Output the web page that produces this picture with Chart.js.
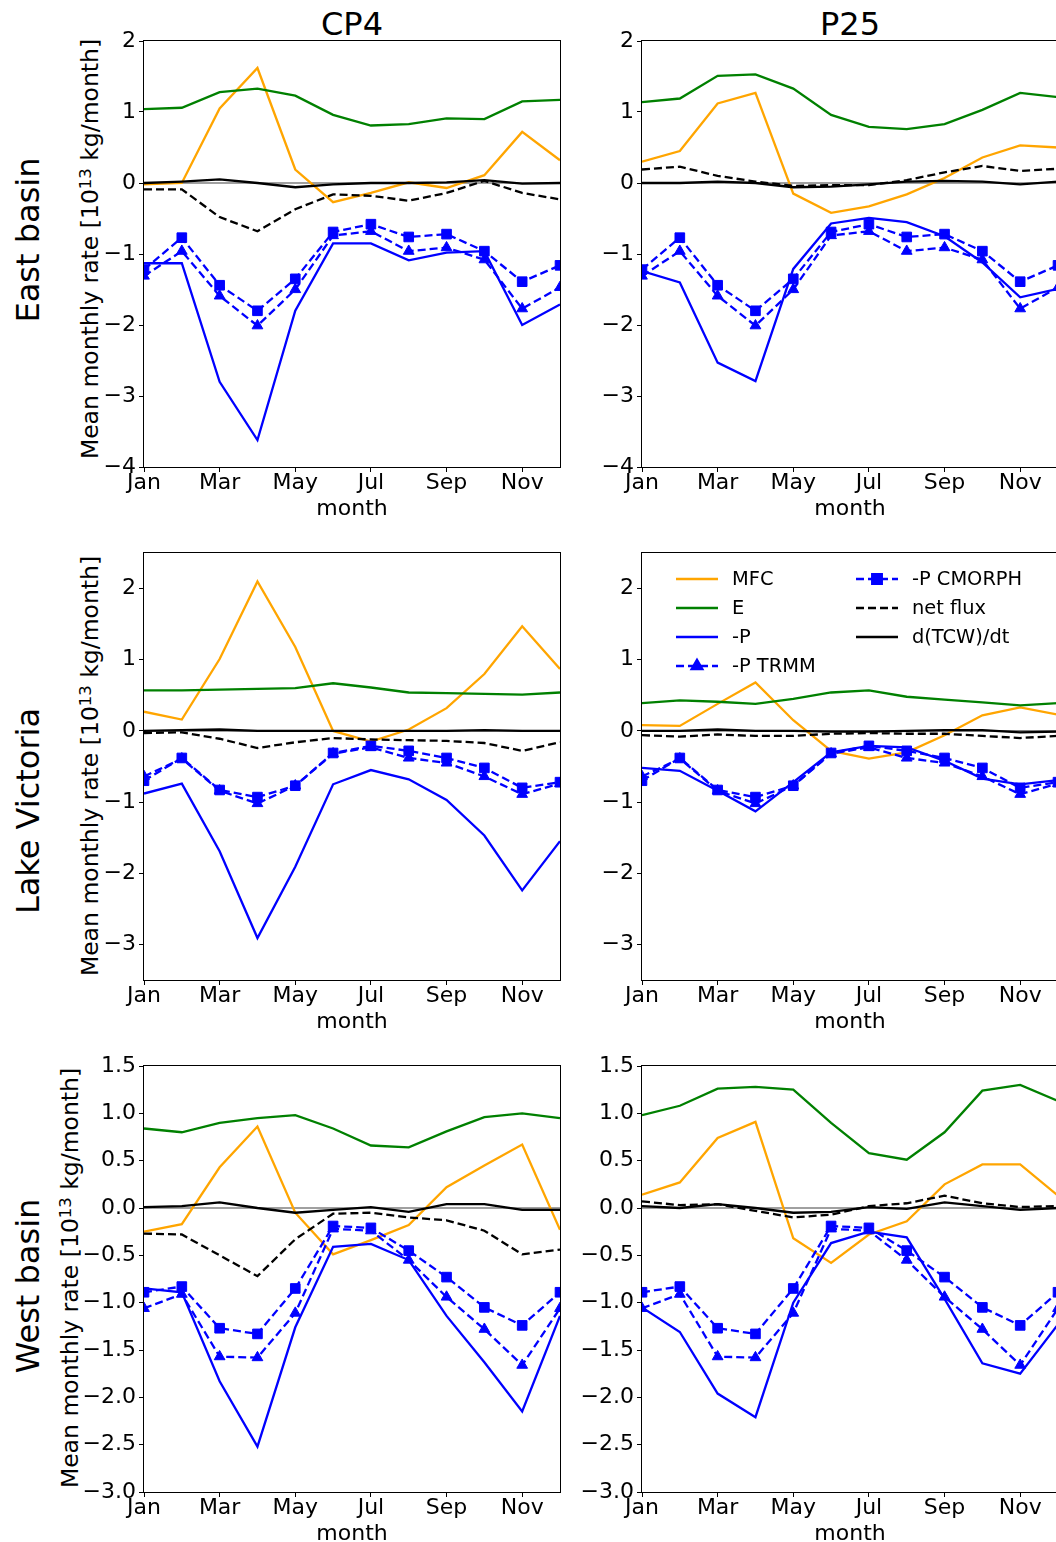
<!DOCTYPE html>
<html>
<head>
<meta charset="utf-8">
<script src="https://cdn.jsdelivr.net/npm/chart.js@4.4.1/dist/chart.umd.min.js"></script>
<style>
body { margin:0; width:1056px; height:1542px; overflow:hidden; background:#fff; position:relative; font-family:"DejaVu Sans", sans-serif; }
canvas { position:absolute; }
.txt { position:absolute; white-space:nowrap; color:#000; line-height:1; }
.rot { transform:translate(-50%,-50%) rotate(-90deg); }
.ttl { width:200px; text-align:center; font-size:32px; }
sup { font-size:70%; vertical-align:0.45em; line-height:0; }
</style>
</head>
<body>
<div class="txt ttl" style="left:252px;top:8px">CP4</div>
<div class="txt ttl" style="left:750px;top:8px">P25</div>
<div class="txt rot" style="left:28px;top:240px;font-size:32px">East basin</div>
<div class="txt rot" style="left:28px;top:811px;font-size:32px">Lake Victoria</div>
<div class="txt rot" style="left:28px;top:1286px;font-size:32px">West basin</div>
<div class="txt rot" style="left:91px;top:249px;font-size:23.5px">Mean monthly rate [10<sup>13</sup> kg/month]</div>
<div class="txt rot" style="left:91px;top:766px;font-size:23.5px">Mean monthly rate [10<sup>13</sup> kg/month]</div>
<div class="txt rot" style="left:71px;top:1278px;font-size:23.5px">Mean monthly rate [10<sup>13</sup> kg/month]</div>
<script>
// months 0..11, ticks every other month
const months = ['Jan', 'Feb', 'Mar', 'Apr', 'May', 'Jun', 'Jul', 'Aug', 'Sep', 'Oct', 'Nov', 'Dec'];
const monthTicks = [0, 2, 4, 6, 8, 10];

const eastTicks = [-4, -3, -2, -1, 0, 1, 2];
const lvTicks = [-3, -2, -1, 0, 1, 2];
const westTicks = [-3, -2.5, -2, -1.5, -1, -0.5, 0, 0.5, 1, 1.5];

// observations (same in both columns)
const eastTrmm = [-1.31, -0.96, -1.59, -2.01, -1.50, -0.74, -0.68, -0.96, -0.91, -1.08, -1.77, -1.47];
const eastCmorph = [-1.22, -0.77, -1.44, -1.80, -1.35, -0.69, -0.58, -0.76, -0.72, -0.96, -1.39, -1.16];
const lvTrmm = [-0.64, -0.39, -0.84, -1.02, -0.77, -0.32, -0.23, -0.38, -0.45, -0.64, -0.89, -0.74];
const lvCmorph = [-0.70, -0.38, -0.83, -0.93, -0.77, -0.31, -0.21, -0.28, -0.38, -0.52, -0.80, -0.72];
const westTrmm = [-1.06, -0.91, -1.57, -1.58, -1.11, -0.22, -0.24, -0.55, -0.94, -1.28, -1.66, -1.06];
const westCmorph = [-0.89, -0.83, -1.27, -1.33, -0.85, -0.19, -0.21, -0.45, -0.73, -1.05, -1.24, -0.89];

// East basin
const eastMfcCP4 = [-0.02, 0.0, 1.05, 1.62, 0.19, -0.27, -0.14, 0.01, -0.07, 0.11, 0.72, 0.32];
const eastE_CP4 = [1.04, 1.06, 1.28, 1.33, 1.23, 0.96, 0.81, 0.83, 0.91, 0.90, 1.15, 1.17];
const eastP_CP4 = [-1.13, -1.13, -2.80, -3.62, -1.80, -0.85, -0.85, -1.09, -0.98, -0.96, -2.00, -1.71];
const eastNet_CP4 = [-0.09, -0.09, -0.48, -0.68, -0.37, -0.16, -0.18, -0.25, -0.14, 0.03, -0.14, -0.23];
const eastTcw_CP4 = [0.0, 0.02, 0.05, 0.0, -0.06, -0.02, 0.0, 0.0, 0.01, 0.04, -0.01, 0.0];

const eastMfcP25 = [0.30, 0.45, 1.12, 1.27, -0.15, -0.42, -0.33, -0.16, 0.07, 0.36, 0.53, 0.50];
const eastE_P25 = [1.14, 1.19, 1.51, 1.53, 1.33, 0.96, 0.79, 0.76, 0.83, 1.03, 1.27, 1.21];
const eastP_P25 = [-1.24, -1.40, -2.53, -2.79, -1.21, -0.57, -0.49, -0.55, -0.75, -1.12, -1.61, -1.49];
const eastNet_P25 = [0.19, 0.23, 0.10, 0.02, -0.04, -0.03, -0.03, 0.04, 0.15, 0.24, 0.17, 0.20];
const eastTcw_P25 = [0.0, 0.0, 0.02, 0.0, -0.06, -0.05, -0.02, 0.02, 0.03, 0.02, -0.02, 0.02];

// Lake Victoria
const lvMfcCP4 = [0.27, 0.16, 1.01, 2.10, 1.18, 0.0, -0.15, 0.02, 0.32, 0.80, 1.47, 0.87];
const lvE_CP4 = [0.57, 0.57, 0.58, 0.59, 0.60, 0.67, 0.61, 0.54, 0.53, 0.52, 0.51, 0.54];
const lvP_CP4 = [-0.88, -0.74, -1.69, -2.91, -1.91, -0.75, -0.55, -0.68, -0.97, -1.47, -2.24, -1.55];
const lvNet_CP4 = [-0.03, -0.02, -0.11, -0.24, -0.16, -0.10, -0.12, -0.13, -0.14, -0.17, -0.28, -0.16];
const lvTcw_CP4 = [0.0, 0.01, 0.02, 0.0, 0.0, 0.0, 0.0, 0.0, 0.0, 0.01, 0.0, 0.0];

const lvMfcP25 = [0.08, 0.07, 0.38, 0.68, 0.15, -0.28, -0.39, -0.30, -0.06, 0.22, 0.33, 0.23];
const lvE_P25 = [0.39, 0.43, 0.41, 0.38, 0.45, 0.54, 0.57, 0.48, 0.44, 0.40, 0.36, 0.39];
const lvP_P25 = [-0.52, -0.56, -0.84, -1.13, -0.72, -0.30, -0.21, -0.23, -0.42, -0.67, -0.75, -0.69];
const lvNet_P25 = [-0.06, -0.08, -0.05, -0.07, -0.07, -0.04, -0.03, -0.04, -0.04, -0.07, -0.10, -0.07];
const lvTcw_P25 = [0.0, 0.0, 0.02, 0.0, 0.0, -0.01, -0.01, 0.0, 0.01, 0.01, -0.02, -0.01];

// West basin
const westMfcCP4 = [-0.25, -0.17, 0.43, 0.86, -0.05, -0.49, -0.34, -0.18, 0.22, 0.45, 0.67, -0.23];
const westE_CP4 = [0.84, 0.80, 0.90, 0.95, 0.98, 0.84, 0.66, 0.64, 0.81, 0.96, 1.00, 0.95];
const westP_CP4 = [-0.85, -0.89, -1.83, -2.52, -1.26, -0.41, -0.38, -0.55, -1.14, -1.63, -2.15, -1.14];
const westNet_CP4 = [-0.27, -0.28, -0.50, -0.72, -0.33, -0.06, -0.05, -0.10, -0.13, -0.24, -0.49, -0.44];
const westTcw_CP4 = [0.01, 0.02, 0.06, 0.0, -0.05, -0.02, 0.01, -0.04, 0.04, 0.04, -0.02, -0.02];

const westMfcP25 = [0.14, 0.27, 0.74, 0.91, -0.32, -0.58, -0.28, -0.14, 0.25, 0.46, 0.46, 0.13];
const westE_P25 = [0.98, 1.08, 1.26, 1.28, 1.25, 0.90, 0.58, 0.51, 0.80, 1.24, 1.30, 1.13];
const westP_P25 = [-1.05, -1.31, -1.96, -2.21, -1.00, -0.37, -0.25, -0.31, -0.96, -1.64, -1.75, -1.23];
const westNet_P25 = [0.07, 0.03, 0.04, -0.03, -0.10, -0.07, 0.02, 0.05, 0.13, 0.05, 0.01, 0.02];
const westTcw_P25 = [0.02, 0.0, 0.04, 0.0, -0.05, -0.04, 0.01, -0.01, 0.06, 0.02, -0.02, 0.0];

Chart.defaults.font.family = 'DejaVu Sans';
Chart.defaults.color = '#000';

const FS = 22;
const LW = 2.3;
const DASH = [8, 4];

function line(label, vals, color, dash, marker) {
  return {
    label: label,
    data: vals.map((v, i) => ({ x: i, y: v })),
    borderColor: color,
    backgroundColor: color,
    borderWidth: LW,
    borderDash: dash || [],
    pointStyle: marker || 'circle',
    pointRadius: marker ? (marker === 'rect' ? 6.8 : 6.2) : 0,
    pointHoverRadius: 0,
    pointBorderWidth: 1,
    tension: 0,
    fill: false
  };
}

function makeSets(mfc, e, p, trmm, cmorph, net, tcw) {
  const s = [
    line('MFC', mfc, '#ffa500'),
    line('E', e, '#008000'),
    line('-P', p, '#0000ff'),
    line('-P TRMM', trmm, '#0000ff', DASH, 'triangle'),
    line('-P CMORPH', cmorph, '#0000ff', DASH, 'rect'),
    line('net flux', net, '#000000', DASH),
    line('d(TCW)/dt', tcw, '#000000')
  ];
  // later series on top, like matplotlib
  s.forEach((d, i) => d.order = s.length - i);
  return s;
}

// zero line and box around the axes
const framePlugin = {
  id: 'frame',
  beforeDatasetsDraw(chart) {
    const { ctx, chartArea: a } = chart;
    const y0 = chart.scales.y.getPixelForValue(0);
    ctx.save();
    ctx.strokeStyle = '#808080';
    ctx.lineWidth = 1.6;
    ctx.beginPath();
    ctx.moveTo(a.left, y0);
    ctx.lineTo(a.right, y0);
    ctx.stroke();
    ctx.restore();
  },
  afterDatasetsDraw(chart) {
    const { ctx, chartArea: a } = chart;
    ctx.save();
    ctx.strokeStyle = '#000';
    ctx.lineWidth = 1;
    ctx.strokeRect(a.left - 0.5, a.top - 0.5, a.right - a.left + 1, a.bottom - a.top + 1);
    ctx.restore();
  }
};

// two-column legend inside the axes (column-major like matplotlib)
const legendPlugin = {
  id: 'innerLegend',
  afterDraw(chart) {
    if (!chart.options.plugins.innerLegend.show) return;
    const { ctx, chartArea: a } = chart;
    const sets = chart.data.datasets;
    const cols = [[0, 1, 2, 3], [4, 5, 6]];
    const colX = [34, 214];
    ctx.save();
    ctx.font = '19.4px "DejaVu Sans"';
    ctx.textBaseline = 'middle';
    ctx.fillStyle = '#000';
    cols.forEach((idx, c) => {
      idx.forEach((k, r) => {
        const d = sets[k];
        const x0 = a.left + colX[c];
        const x1 = x0 + 42;
        const y = a.top + 26 + r * 29;
        ctx.strokeStyle = d.borderColor;
        ctx.lineWidth = LW;
        ctx.setLineDash(d.borderDash);
        ctx.beginPath();
        ctx.moveTo(x0, y);
        ctx.lineTo(x1, y);
        ctx.stroke();
        ctx.setLineDash([]);
        if (d.pointRadius > 0) {
          Chart.helpers.drawPoint(ctx, {
            pointStyle: d.pointStyle, radius: d.pointRadius, borderWidth: 1, rotation: 0
          }, (x0 + x1) / 2, y);
          ctx.fillStyle = d.backgroundColor;
          ctx.fill();
          ctx.fillStyle = '#000';
        }
        ctx.fillText(d.label, x1 + 14, y + 1);
      });
    });
    ctx.restore();
  }
};

const colLeft = [144, 642];
const rowTop = [41, 553, 1066];
const rowH = [426, 427, 426];
const plotW = 416;
const padL = 100, padT = 16, padR = 14, padB = 60;

const rows = [
  { min: -4, max: 2, ticks: eastTicks, dec: 0 },
  { min: -3.5, max: 2.5, ticks: lvTicks, dec: 0 },
  { min: -3, max: 1.5, ticks: westTicks, dec: 1 }
];

const panels = [
  { row: 0, col: 0, sets: makeSets(eastMfcCP4, eastE_CP4, eastP_CP4, eastTrmm, eastCmorph, eastNet_CP4, eastTcw_CP4) },
  { row: 0, col: 1, sets: makeSets(eastMfcP25, eastE_P25, eastP_P25, eastTrmm, eastCmorph, eastNet_P25, eastTcw_P25) },
  { row: 1, col: 0, sets: makeSets(lvMfcCP4, lvE_CP4, lvP_CP4, lvTrmm, lvCmorph, lvNet_CP4, lvTcw_CP4) },
  { row: 1, col: 1, sets: makeSets(lvMfcP25, lvE_P25, lvP_P25, lvTrmm, lvCmorph, lvNet_P25, lvTcw_P25), legend: true },
  { row: 2, col: 0, sets: makeSets(westMfcCP4, westE_CP4, westP_CP4, westTrmm, westCmorph, westNet_CP4, westTcw_CP4) },
  { row: 2, col: 1, sets: makeSets(westMfcP25, westE_P25, westP_P25, westTrmm, westCmorph, westNet_P25, westTcw_P25) }
];

function fmt(v, dec) {
  const s = Math.abs(v).toFixed(dec);
  return (v < 0 ? '\u2212' : '') + s;
}

panels.forEach(p => {
  const r = rows[p.row];
  const cv = document.createElement('canvas');
  cv.width = padL + plotW + padR;
  cv.height = padT + rowH[p.row] + padB;
  cv.style.left = (colLeft[p.col] - padL) + 'px';
  cv.style.top = (rowTop[p.row] - padT) + 'px';
  document.body.appendChild(cv);

  new Chart(cv.getContext('2d'), {
    type: 'line',
    data: { datasets: p.sets },
    options: {
      responsive: false,
      animation: false,
      events: [],
      layout: { padding: { left: 0, top: padT, right: padR, bottom: 0 } },
      plugins: {
        legend: { display: false },
        tooltip: { enabled: false },
        innerLegend: { show: !!p.legend }
      },
      scales: {
        x: {
          type: 'linear',
          min: 0,
          max: 11,
          afterBuildTicks: s => { s.ticks = monthTicks.map(v => ({ value: v })); },
          afterFit: s => { s.height = padB; },
          ticks: {
            font: { size: FS, lineHeight: 1 },
            padding: 0,
            maxRotation: 0,
            autoSkip: false,
            callback: v => months[v]
          },
          grid: { drawOnChartArea: false, drawTicks: true, tickLength: 5, color: '#000', lineWidth: 1 },
          border: { display: false },
          title: { display: true, text: 'month', font: { size: FS }, padding: { top: 0, bottom: 5 } }
        },
        y: {
          min: r.min,
          max: r.max,
          afterBuildTicks: s => { s.ticks = r.ticks.map(v => ({ value: v })); },
          afterFit: s => { s.width = padL; },
          ticks: {
            font: { size: FS, lineHeight: 1 },
            padding: 3,
            autoSkip: false,
            callback: v => fmt(v, r.dec)
          },
          grid: { drawOnChartArea: false, drawTicks: true, tickLength: 5, color: '#000', lineWidth: 1 },
          border: { display: false }
        }
      }
    },
    plugins: [framePlugin, legendPlugin]
  });
});
</script>
</body>
</html>
